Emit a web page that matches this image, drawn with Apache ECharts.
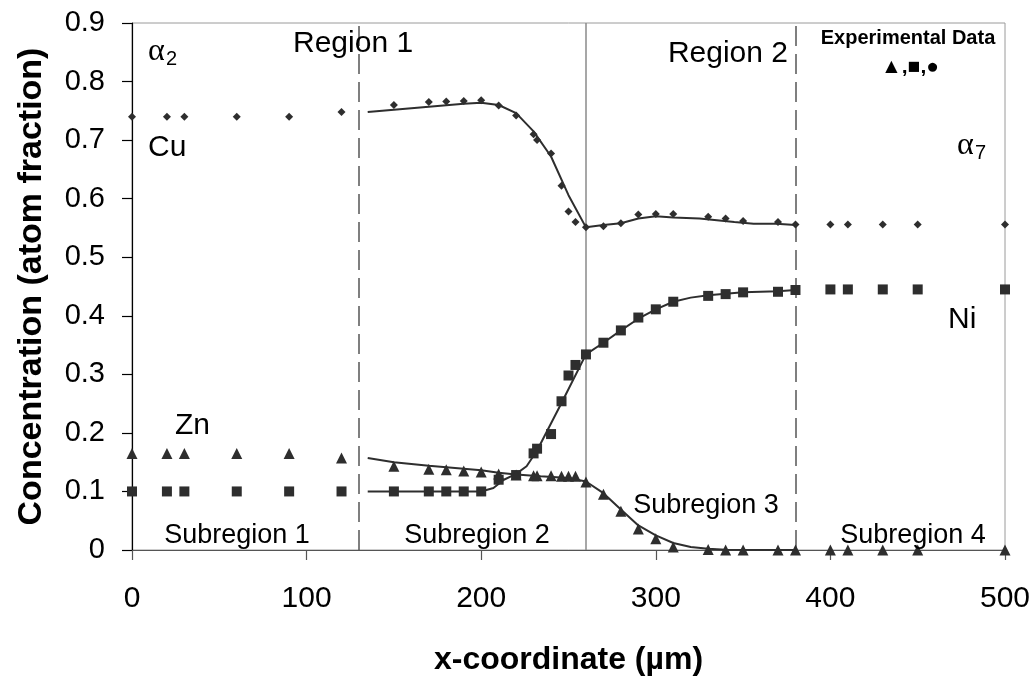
<!DOCTYPE html>
<html>
<head>
<meta charset="utf-8">
<script src="https://cdn.jsdelivr.net/npm/echarts@6/dist/echarts.min.js"></script>
<style>
  html, body { margin: 0; padding: 0; background: #fff; }
  #chart { width: 1036px; height: 681px; }
</style>
</head>
<body>
<div id="chart"></div>
<script>
// Measured composition profile across the diffusion couple (atom fraction)
const xLeft  = [0, 20, 30, 60, 90, 120];
const cuLeft = [0.740, 0.740, 0.740, 0.740, 0.740, 0.748];
const niLeft = [0.100, 0.100, 0.100, 0.100, 0.100, 0.100];
const znLeft = [0.165, 0.165, 0.165, 0.165, 0.165, 0.157];

const xMid  = [150, 170, 180, 190, 200, 210, 220, 230, 232, 240, 246, 250, 254, 260, 270, 280, 290, 300, 310, 330, 340, 350, 370, 380];
const cuMid = [0.760, 0.765, 0.766, 0.767, 0.768, 0.759, 0.742, 0.710, 0.700, 0.677, 0.622, 0.578, 0.560, 0.551, 0.553, 0.558, 0.573, 0.574, 0.574, 0.569, 0.566, 0.562, 0.560, 0.556];
const niMid = [0.100, 0.100, 0.100, 0.100, 0.100, 0.120, 0.128, 0.165, 0.173, 0.198, 0.254, 0.298, 0.316, 0.334, 0.354, 0.375, 0.397, 0.411, 0.424, 0.434, 0.437, 0.440, 0.441, 0.444];
const znMid = [0.143, 0.138, 0.137, 0.135, 0.133, 0.130, 0.128, 0.127, 0.127, 0.127, 0.126, 0.126, 0.126, 0.116, 0.095, 0.066, 0.036, 0.019, 0.005, 0.001, 0.000, 0.000, 0.000, 0.000];

const xRight  = [400, 410, 430, 450, 500];
const cuRight = [0.556, 0.556, 0.556, 0.556, 0.556];
const niRight = [0.445, 0.445, 0.445, 0.445, 0.445];
const znRight = [0.000, 0.000, 0.000, 0.000, 0.000];

// Calculated profiles (solid curves) through regions 1 and 2
const cuFitX = [135, 150, 170, 190, 200, 210, 220, 230, 240, 250, 260, 270, 280, 290, 300, 310, 325, 335, 345, 356, 369, 380];
const cuFit  = [0.748, 0.752, 0.757, 0.762, 0.764, 0.760, 0.746, 0.715, 0.672, 0.606, 0.551, 0.555, 0.558, 0.566, 0.570, 0.568, 0.566, 0.563, 0.560, 0.557, 0.557, 0.555];
const niFitX = [135, 200, 207, 213, 220, 226, 232, 246, 260, 270, 280, 290, 300, 310, 320, 330, 350, 370, 380];
const niFit  = [0.100, 0.100, 0.106, 0.120, 0.130, 0.143, 0.170, 0.251, 0.334, 0.354, 0.375, 0.395, 0.411, 0.424, 0.431, 0.435, 0.440, 0.442, 0.444];
const znFitX = [135, 150, 170, 200, 210, 220, 234, 250, 260, 270, 280, 290, 300, 310, 320, 330, 340, 380];
const znFit  = [0.157, 0.150, 0.144, 0.136, 0.132, 0.129, 0.126, 0.123, 0.117, 0.097, 0.069, 0.042, 0.025, 0.012, 0.005, 0.002, 0.0005, 0.000];

// Region / subregion boundaries (µm)
const dashedBounds = [130, 380];
const solidBounds = [260];

const FONT = "'Liberation Sans', Arial, sans-serif";
const INK = '#2e2e2e';

function pairs(xs, ys) { return xs.map((x, i) => [x, ys[i]]); }
const cuPts = pairs(xLeft, cuLeft).concat(pairs(xMid, cuMid), pairs(xRight, cuRight));
const niPts = pairs(xLeft, niLeft).concat(pairs(xMid, niMid), pairs(xRight, niRight));
const znPts = pairs(xLeft, znLeft).concat(pairs(xMid, znMid), pairs(xRight, znRight));

const chart = echarts.init(document.getElementById('chart'), null, { renderer: 'canvas' });

function label(text, x, y, size, opts) {
  opts = opts || {};
  return {
    type: 'text', z: 100,
    style: {
      text: text, x: x, y: y,
      fontSize: size, fontFamily: opts.family || FONT, fontWeight: opts.weight || 'normal',
      fill: '#000', align: opts.align || 'left', verticalAlign: 'middle'
    }
  };
}

const option = {
  backgroundColor: '#ffffff',
  animation: false,
  grid: { left: 132, right: 31, top: 23, bottom: 123, show: true, borderColor: '#9a9a9a', borderWidth: 1, backgroundColor: 'transparent' },
  xAxis: {
    type: 'value', min: 0, max: 500, interval: 100,
    name: 'x-coordinate (µm)', nameLocation: 'middle', nameGap: 94,
    nameTextStyle: { fontSize: 32, fontWeight: 'bold', fontFamily: FONT, color: '#000' },
    axisLine: { show: true, onZero: false, lineStyle: { color: '#555', width: 1.2 } },
    axisTick: { show: true, inside: false, length: 10, lineStyle: { color: '#555', width: 1.2 } },
    axisLabel: { fontSize: 30, fontFamily: FONT, color: '#000', margin: 34 },
    splitLine: { show: false }
  },
  yAxis: {
    type: 'value', min: 0, max: 0.9, interval: 0.1,
    name: 'Concentration (atom fraction)', nameLocation: 'middle', nameGap: 83, nameRotate: 90,
    nameTextStyle: { fontSize: 34, fontWeight: 'bold', fontFamily: FONT, color: '#000' },
    axisLine: { show: true, onZero: false, lineStyle: { color: '#000', width: 1.2 } },
    axisTick: { show: true, inside: false, length: 10, lineStyle: { color: '#000', width: 1.2 } },
    axisLabel: { fontSize: 29, fontFamily: FONT, color: '#000', margin: 27,
      formatter: v => (Math.abs(v) < 1e-9 ? '0' : v.toFixed(1)) },
    splitLine: { show: false }
  },
  series: [
    {
      name: 'bounds', type: 'line', data: [], silent: true, z: 1,
      markLine: {
        silent: true, symbol: ['none', 'none'], label: { show: false },
        animation: false,
        data: dashedBounds.map(v => ({ xAxis: v, lineStyle: { color: '#555', width: 1.5, type: [20, 8] } }))
          .concat(solidBounds.map(v => ({ xAxis: v, lineStyle: { color: '#8a8a8a', width: 1.5, type: 'solid' } })))
      }
    },
    { name: 'Cu fit', type: 'line', data: pairs(cuFitX, cuFit), showSymbol: false, symbol: 'none', z: 3,
      lineStyle: { color: INK, width: 2 } },
    { name: 'Ni fit', type: 'line', data: pairs(niFitX, niFit), showSymbol: false, symbol: 'none', z: 3,
      lineStyle: { color: INK, width: 2 } },
    { name: 'Zn fit', type: 'line', data: pairs(znFitX, znFit), showSymbol: false, symbol: 'none', z: 3,
      lineStyle: { color: INK, width: 2 } },
    { name: 'Cu', type: 'scatter', data: cuPts, symbol: 'diamond', symbolSize: 8, z: 5,
      itemStyle: { color: INK, opacity: 1 } },
    { name: 'Ni', type: 'scatter', data: niPts, symbol: 'rect', symbolSize: 10, z: 5,
      itemStyle: { color: INK, opacity: 1 } },
    { name: 'Zn', type: 'scatter', data: znPts, symbol: 'triangle', symbolSize: 11, z: 5,
      itemStyle: { color: INK, opacity: 1 } }
  ],
  graphic: [
    label('α', 148, 52, 32, { family: "'Liberation Serif', serif" }),
    label('2', 166, 59, 20),
    label('Region 1', 293, 44, 30),
    label('Cu', 148, 148, 30),
    label('Region 2', 788, 54, 30, { align: 'right' }),
    label('Experimental Data', 908, 38, 20, { weight: 'bold', align: 'center' }),
    label('▲,■,●', 910, 67, 21, { weight: 'bold', align: 'center' }),
    label('α', 957, 146, 32, { family: "'Liberation Serif', serif" }),
    label('7', 975, 153, 20),
    label('Zn', 175, 426, 30),
    label('Ni', 948, 320, 30),
    label('Subregion 1', 237, 536, 27, { align: 'center' }),
    label('Subregion 2', 477, 536, 27, { align: 'center' }),
    label('Subregion 3', 706, 506, 27, { align: 'center' }),
    label('Subregion 4', 913, 536, 27, { align: 'center' })
  ]
};

chart.setOption(option);
</script>
</body>
</html>
